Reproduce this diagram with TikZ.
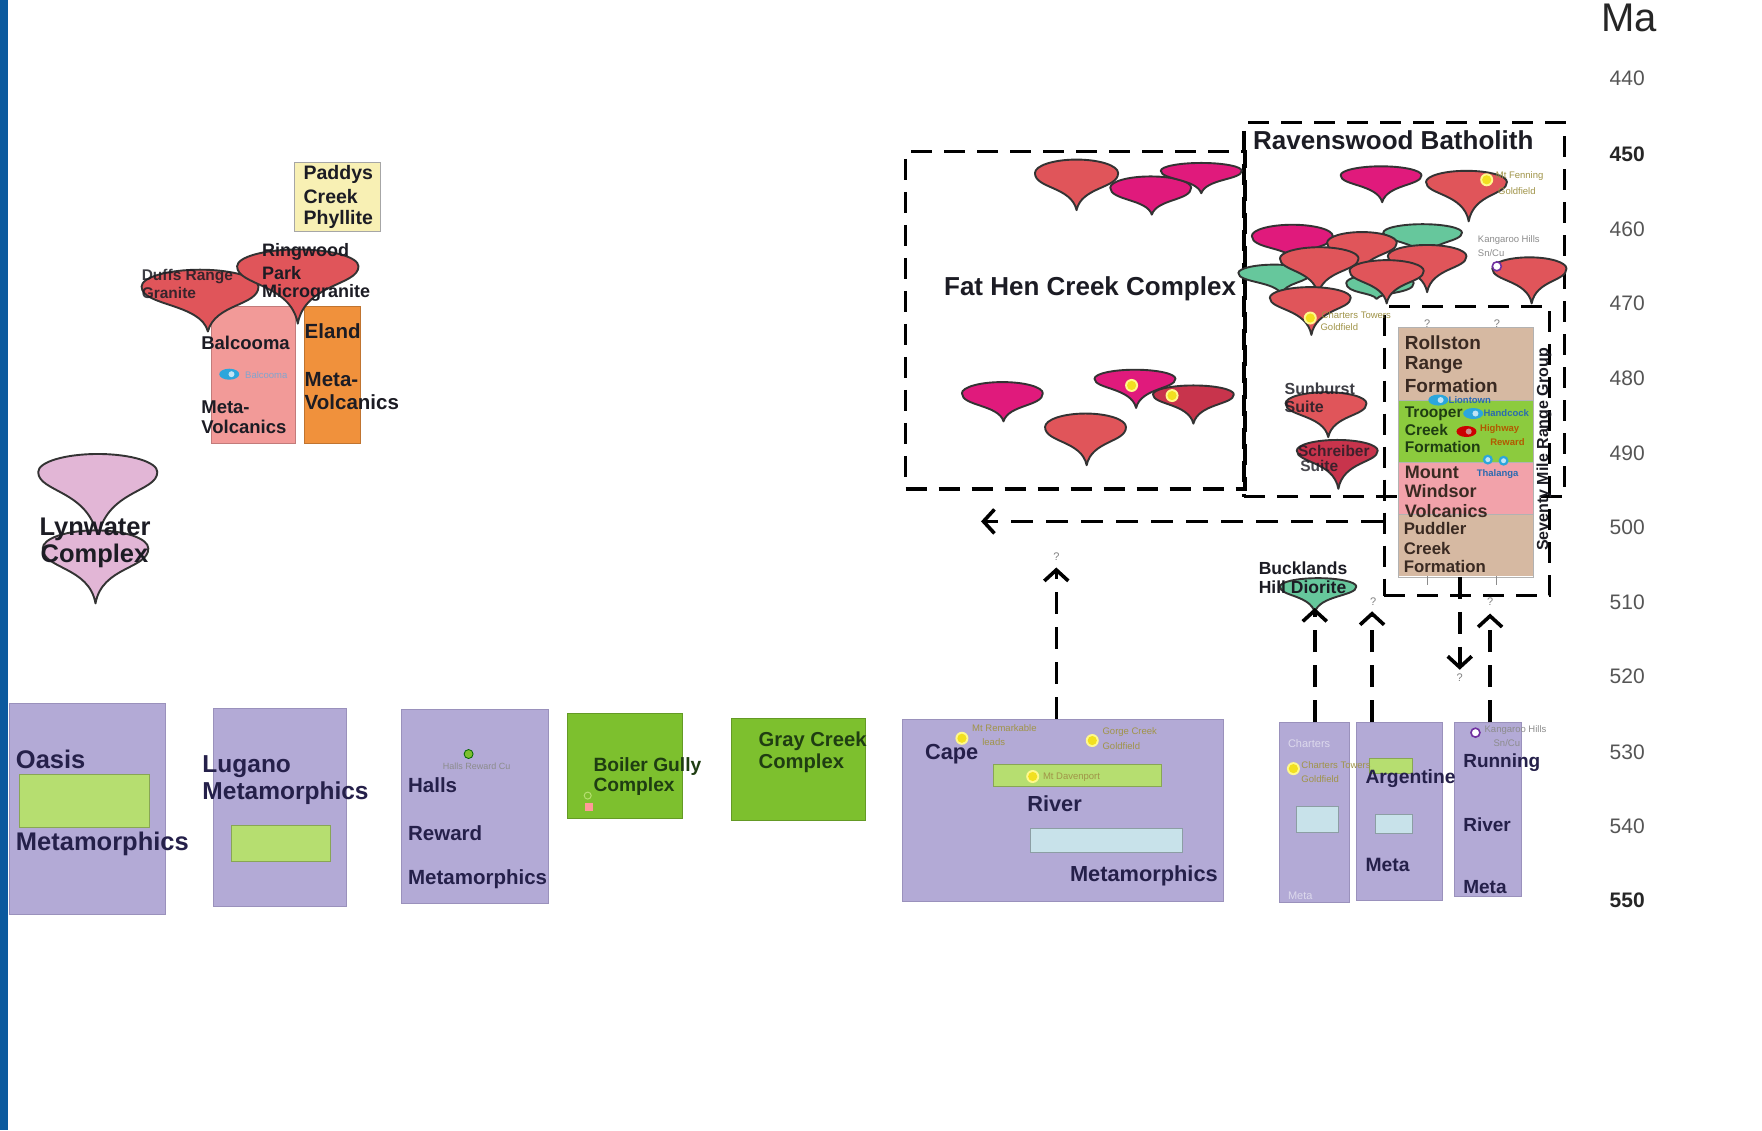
\documentclass[tikz,border=0pt]{standalone}
\usepackage{fontspec}
\setmainfont{Liberation Sans}
\usetikzlibrary{arrows.meta,fit}
\definecolor{lav}{HTML}{B3AAD6}
\definecolor{lavbd}{HTML}{9A91BC}
\definecolor{cgreen}{HTML}{7DC02E}
\definecolor{lgreen}{HTML}{B6DE70}
\definecolor{lblue}{HTML}{C8E2EA}
\definecolor{mred}{HTML}{E0555A}
\definecolor{mmag}{HTML}{E01A7C}
\definecolor{mcrim}{HTML}{C8344C}
\definecolor{mgrn}{HTML}{66C79C}
\definecolor{mlil}{HTML}{E2B6D6}
\definecolor{balpink}{HTML}{F29A98}
\definecolor{elorange}{HTML}{F0913C}
\definecolor{paddy}{HTML}{F8F0B4}
\definecolor{rbrown}{HTML}{D6B9A2}
\definecolor{rgreen}{HTML}{8CCB3E}
\definecolor{rpink}{HTML}{F2A2AA}
\definecolor{stripblue}{HTML}{0B5A9E}
\definecolor{txt}{HTML}{1C1C24}
\definecolor{navy}{HTML}{25204A}
\definecolor{olive}{HTML}{A09448}
\definecolor{dotblue}{HTML}{2BA6DC}
\definecolor{tickgray}{HTML}{555555}
\definecolor{ydot}{HTML}{F2E020}
\definecolor{kpurple}{HTML}{7030A0}
\definecolor{dkgreen}{HTML}{1F3D12}
\definecolor{dkbrown}{HTML}{3A2A22}
\definecolor{fblue}{HTML}{2A6AB0}

\newcommand{\mushroom}[7]{%
  \pgfmathsetmacro{\mshL}{#1-#3}%
  \pgfmathsetmacro{\mshR}{#1+#3}%
  \pgfmathsetmacro{\mshT}{#2-#4}%
  \pgfmathsetmacro{\mshKx}{0.5523*#3}%
  \pgfmathsetmacro{\mshKy}{0.5523*#4}%
  \pgfmathsetmacro{\mshB}{#2+1.15*#4}%
  \pgfmathsetmacro{\mshN}{#2+1.0*#4}%
  \pgfmathsetmacro{\mshTr}{#5+0.12*#3}%
  \pgfmathsetmacro{\mshTl}{#5-0.12*#3}%
  \filldraw[mushline, fill=#7] (\mshL,#2) .. controls (\mshL,#2-\mshKy) and (#1-\mshKx,\mshT) .. (#1,\mshT) .. controls (#1+\mshKx,\mshT) and (\mshR,#2-\mshKy) .. (\mshR,#2) .. controls (\mshR,\mshB) and (\mshTr,\mshN) .. (#5,#6) .. controls (\mshTl,\mshN) and (\mshL,\mshB) .. cycle;%
}
\newcommand{\ydotat}[2]{\fill[yellow!45!white] (#1,#2) circle (6.5pt); \fill[ydot] (#1,#2) circle (4.6pt);}
\newcommand{\bcaps}[3]{\fill[#3] (#1,#2) ellipse (10pt and 5.5pt); \fill[white!70!#3] (#1+2,#2) circle (3pt);}

\begin{document}
\begin{tikzpicture}[x=1.1237pt, y=-1.1237pt,
  dbox/.style={draw=black, line width=3.4pt, dash pattern=on 21pt off 12pt, inner sep=0pt},
  darr/.style={draw=black, line width=3.6pt, dash pattern=on 22pt off 13pt, -{Straight Barb[length=11pt,width=24pt]}},
  rbox/.style={inner sep=0pt, line width=0.9pt},
  lbl/.style={inner sep=0pt, anchor=west, text=txt, font=\bfseries\fontsize{#1}{#1}\selectfont},
  lbl/.default=20,
  flbl/.style={inner sep=0pt, anchor=west, text=olive, font=\fontsize{#1}{#1}\selectfont},
  flbl/.default=9.5,
  tick/.style={inner sep=0pt, text=tickgray, font=\fontsize{21}{21}\selectfont},
  qm/.style={inner sep=0pt, text=black!50, font=\fontsize{11}{11}\selectfont},
  mushline/.style={draw=black!80, line width=1.9pt, line join=round},
]
\fill[white] (0,0) rectangle (1568,1006);
\useasboundingbox (0,0) rectangle (1568,1006);
\fill[stripblue] (0,0) rectangle (7,1006);

% ---------- dashed group boxes ----------
\node[dbox, fit={(806,135) (1108,435)}] (fathen) {};
\node[dbox, fit={(1107,109) (1392,442)}] (raven) {};

% ---------- upper left boxes ----------
\node[rbox, draw=black!35, fill=paddy, fit={(262,145) (339,206)}] (paddys) {};
\node[rbox, draw=balpink!80!black, fill=balpink, fit={(188,273) (263,395)}] (balcooma) {};
\node[rbox, draw=elorange!80!black, fill=elorange, fit={(271,273) (321,395)}] (eland) {};

% ---------- intrusions (spinning-top shapes) ----------
\mushroom{178}{255}{52}{15}{185}{295}{mred}
\mushroom{265}{237}{54}{15}{265}{288}{mred}
\mushroom{87}{420}{53}{16}{87}{480}{mlil}
\mushroom{85}{488}{47}{16}{85}{537}{mlil}
% Fat Hen Creek
\mushroom{958}{154}{37}{12}{958}{187}{mred}
\mushroom{1024}{167}{36}{10}{1025}{191}{mmag}
\mushroom{1069}{152}{36}{7}{1069}{172}{mmag}
\mushroom{892}{350}{36}{10}{893}{375}{mmag}
\mushroom{966}{380}{36}{12}{967}{414}{mred}
\mushroom{1010}{337}{36}{8}{1011}{363}{mmag}
\mushroom{1062}{351}{36}{8}{1062}{377}{mcrim}
% Ravenswood
\mushroom{1229}{156}{36}{8}{1230}{180}{mmag}
\mushroom{1305}{162}{36}{10}{1307}{197}{mred}
\mushroom{1266}{207}{35}{7.5}{1268}{230}{mgrn}
\mushroom{1134}{243}{32}{7.5}{1140}{262}{mgrn}
\mushroom{1228}{252}{30}{8}{1225}{266}{mgrn}
\mushroom{1150}{210}{36}{10}{1151}{231}{mmag}
\mushroom{1212}{216}{31}{9.5}{1210}{245}{mred}
\mushroom{1174}{230}{35}{10}{1173}{262}{mred}
\mushroom{1270}{228}{35}{10}{1270}{260}{mred}
\mushroom{1234}{241}{33}{9.5}{1234}{270}{mred}
\mushroom{1166}{265}{36}{9.5}{1167}{298}{mred}
\mushroom{1361}{239}{33}{10}{1363}{270}{mred}
% Sunburst, Schreiber, Bucklands
\mushroom{1180}{359}{36}{10}{1182}{389}{mred}
\mushroom{1190}{401}{36}{9.5}{1191}{435}{mcrim}
\mushroom{1173}{522}{34}{7.5}{1170}{545}{mgrn}

% ---------- Seventy Mile Range Group ----------
\node[rbox, fill=rbrown, fit={(1245,292) (1364,513)}] (rollbox) {};
\fill[rgreen] (1245,356) rectangle (1364,411);
\fill[rpink] (1245,411) rectangle (1364,458);
\draw[black!30, line width=0.6pt] (1245,356) -- (1364,356) (1245,411) -- (1364,411) (1245,458) -- (1364,458);
\draw[black!30, line width=0.7pt] (rollbox.north west) rectangle (rollbox.south east);
\node[dbox, fit={(1232,273) (1379,530)}] (smr) {};
\draw[black!45, line width=0.8pt] (1270,513) -- (1270,521) (1332,513) -- (1332,521);

% ---------- lower boxes ----------
\node[rbox, draw=lavbd, fill=lav, fit={(8,626) (147,814)}] (oasis) {};
\node[rbox, draw=lgreen!75!black, fill=lgreen, fit={(17,689) (133,736)}] (oasisin) {};
\node[rbox, draw=lavbd, fill=lav, fit={(190,630) (308,807)}] (lugano) {};
\node[rbox, draw=lgreen!75!black, fill=lgreen, fit={(206,735) (294,767)}] (luganoin) {};
\node[rbox, draw=lavbd, fill=lav, fit={(357,631) (488,804)}] (halls) {};
\node[rbox, draw=cgreen!80!black, fill=cgreen, fit={(505,635) (607,728)}] (boiler) {};
\node[rbox, draw=cgreen!80!black, fill=cgreen, fit={(651,639) (770,730)}] (gray) {};
\node[rbox, draw=lavbd, fill=lav, fit={(803,640) (1089,802)}] (cape) {};
\node[rbox, draw=lgreen!75!black, fill=lgreen, fit={(884,680) (1034,700)}] (capein1) {};
\node[rbox, draw=lblue!70!black, fill=lblue, fit={(917,737) (1052,759)}] (capein2) {};
\node[rbox, draw=lavbd, fill=lav, fit={(1139,643) (1201,803)}] (charters) {};
\node[rbox, draw=lblue!70!black, fill=lblue, fit={(1154,718) (1191,741)}] (chartersin) {};
\node[rbox, draw=lavbd, fill=lav, fit={(1207,643) (1284,801)}] (argentine) {};
\node[rbox, draw=lgreen!75!black, fill=lgreen, fit={(1219,675) (1257,688)}] (argin1) {};
\node[rbox, draw=lblue!70!black, fill=lblue, fit={(1224,725) (1257,742)}] (argin2) {};
\node[rbox, draw=lavbd, fill=lav, fit={(1294,643) (1354,798)}] (running) {};

% ---------- connectors ----------
\coordinate (fh) at (940,505);
\coordinate (bk) at (1170,541);
\coordinate (ag) at (1221,544);
\coordinate (rr) at (1326,546);
\coordinate (dn) at (1299,596);
\coordinate (lf) at (873,464);
\draw[darr] (cape.north -| fh) -- (fh);
\draw[darr] (charters.north -| bk) -- (bk);
\draw[darr] (argentine.north -| ag) -- (ag);
\draw[darr] (running.north -| rr) -- (rr);
\draw[darr] (rollbox.south -| dn) -- (dn);
\draw[darr] (smr.west |- lf) -- (lf);
\node[qm] (q1) at (940,495) {?};
\node[qm] (q2) at (1222,535) {?};
\node[qm] (q3) at (1326,535) {?};
\node[qm] (q4) at (1299,603) {?};
\node[qm] (q5) at (1270,288) {?};
\node[qm] (q6) at (1332,288) {?};

% ---------- dots ----------
\ydotat{1007}{343}
\ydotat{1043}{352}
\ydotat{1323}{160}
\ydotat{1166}{283}
\ydotat{856}{657}
\ydotat{972}{659}
\ydotat{919}{691}
\ydotat{1151}{684}
\filldraw[draw=kpurple, line width=1.6pt, fill=white] (1332,237) circle (4.5pt);
\filldraw[draw=kpurple, line width=1.6pt, fill=white] (1313,652) circle (4.5pt);
\bcaps{1280}{356}{dotblue}
\bcaps{1311}{368}{dotblue}
\bcaps{1305}{384}{red!80!black}
\fill[dotblue] (1324,409) circle (5pt); \fill[white!70!dotblue] (1324,409) circle (2.5pt);
\fill[dotblue] (1338,410) circle (5pt); \fill[white!70!dotblue] (1338,410) circle (2.5pt);
\bcaps{204}{333}{dotblue}
\filldraw[draw=green!40!black, line width=0.8pt, fill=cgreen] (417,671) circle (4.5pt);
\draw[draw=lgreen, line width=1pt] (523,708) circle (3.5pt);
\fill[pink!80!red] (520.5,714.5) rectangle (527.5,721.5);

% ---------- labels ----------
\node[lbl=19.5] (pc1) at (270,155) {Paddys};
\node[lbl=19.5] (pc2) at (270,175) {Creek};
\node[lbl=19.5] (pc3) at (270,195) {Phyllite};
\node[lbl=15.5, text opacity=0.85] (dr1) at (126,246) {Duffs Range};
\node[lbl=15.5, text opacity=0.85] (dr2) at (126,261) {Granite};
\node[lbl=18] (rw1) at (233,224) {Ringwood};
\node[lbl=18] (rw2) at (233,243) {Park};
\node[lbl=18] (rw3) at (233,261) {Microgranite};
\node[lbl=18.5] (bc1) at (179,305) {Balcooma};
\node[flbl=9.5, text=fblue!60!white] (bcd) at (218,334) {Balcooma};
\node[lbl=18.5] (bc2) at (179,362) {Meta-};
\node[lbl=18.5] (bc3) at (179,380) {Volcanics};
\node[lbl=20.5] (el1) at (271,295) {Eland};
\node[lbl=20.5] (el2) at (271,338) {Meta-};
\node[lbl=20.5] (el3) at (271,358) {Volcanics};
\node[lbl=25.5] (ly1) at (35,471) {Lynwater};
\node[lbl=25.5] (ly2) at (36,495) {Complex};

\node[lbl=26] (fhl) at (840,257) {Fat Hen Creek Complex};
\node[lbl=26] (rvl) at (1115,125) {Ravenswood Batholith};
\node[flbl] (rf1) at (1331,157) {Mt Fenning};
\node[flbl] (rf2) at (1333,170) {Goldfield};
\node[flbl, text=black!45] (kh1) at (1315,214) {Kangaroo Hills};
\node[flbl, text=black!45] (kh2) at (1315,225) {Sn/Cu};
\node[flbl] (ct1) at (1176,280) {Charters Towers};
\node[flbl] (ct2) at (1175,291) {Goldfield};

\node[lbl=16, text opacity=0.85] (sb1) at (1143,346) {Sunburst};
\node[lbl=16, text opacity=0.85] (sb2) at (1143,362) {Suite};
\node[lbl=15.5, text opacity=0.8] (sc1) at (1155,401) {Schreiber};
\node[lbl=15.5, text opacity=0.8] (sc2) at (1157,415) {Suite};
\node[lbl=17.5] (bh1) at (1120,506) {Bucklands};
\node[lbl=17.5] (bh2) at (1120,523) {Hill Diorite};

\node[lbl=19, text=dkbrown] (ro1) at (1250,305) {Rollston};
\node[lbl=19, text=dkbrown] (ro2) at (1250,325) {Range};
\node[lbl=19, text=dkbrown] (ro3) at (1250,343) {Formation};
\node[lbl=15.5, text=dkgreen] (tc1) at (1250,368) {Trooper};
\node[lbl=15.5, text=dkgreen] (tc2) at (1250,383) {Creek};
\node[lbl=15.5, text=dkgreen] (tc3) at (1250,398) {Formation};
\node[lbl=18, text=dkbrown] (mw1) at (1250,420) {Mount};
\node[lbl=18, text=dkbrown] (mw2) at (1250,437) {Windsor};
\node[lbl=18, text=dkbrown] (mw3) at (1250,455) {Volcanics};
\node[lbl=16.8, text=dkbrown] (pu1) at (1249,470) {Puddler};
\node[lbl=16.8, text=dkbrown] (pu2) at (1249,488) {Creek};
\node[lbl=16.8, text=dkbrown] (pu3) at (1249,504) {Formation};
\node[lbl=9.5, text=fblue] (dl1) at (1289,356) {Liontown};
\node[lbl=9.5, text=fblue] (dl2) at (1320,368) {Handcock};
\node[lbl=9.5, text=orange!70!black] (dl3) at (1317,382) {Highway};
\node[lbl=9.5, text=orange!70!black] (dl4) at (1326,393) {Reward};
\node[lbl=9.5, text=fblue] (dl5) at (1314,422) {Thalanga};
\node[lbl=16, anchor=center, rotate=90] (smrl) at (1374,400) {Seventy Mile Range Group};

\node[lbl=25.5, text=navy] (oa1) at (14,676) {Oasis};
\node[lbl=25.5, text=navy] (oa2) at (14,751) {Metamorphics};
\node[lbl=24.5, text=navy] (lu1) at (180,682) {Lugano};
\node[lbl=24.5, text=navy] (lu2) at (180,706) {Metamorphics};
\node[flbl=9, text=black!45] (hrc) at (394,682) {Halls Reward Cu};
\node[lbl=20.5, text=navy] (ha1) at (363,699) {Halls};
\node[lbl=20.5, text=navy] (ha2) at (363,741) {Reward};
\node[lbl=20.5, text=navy] (ha3) at (363,782) {Metamorphics};
\node[lbl=19.2, text=dkgreen] (bg1) at (528,682) {Boiler Gully};
\node[lbl=19.2, text=dkgreen] (bg2) at (528,700) {Complex};
\node[lbl=20.2, text=dkgreen] (gc1) at (675,660) {Gray Creek};
\node[lbl=20.2, text=dkgreen] (gc2) at (675,679) {Complex};
\node[flbl] (mr1) at (865,648) {Mt Remarkable};
\node[flbl] (mr2) at (874,660) {leads};
\node[flbl] (gg1) at (981,651) {Gorge Creek};
\node[flbl] (gg2) at (981,664) {Goldfield};
\node[flbl] (md) at (928,692) {Mt Davenport};
\node[lbl=21.8, text=navy] (cr1) at (823,671) {Cape};
\node[lbl=21.8, text=navy] (cr2) at (914,715) {River};
\node[lbl=21.8, text=navy] (cr3) at (952,779) {Metamorphics};
\node[flbl=11, text=white, text opacity=0.55] (cw1) at (1146,662) {Charters};
\node[flbl=11, text=white, text opacity=0.55] (cw2) at (1146,797) {Meta};
\node[flbl] (cg1) at (1158,681) {Charters Towers};
\node[flbl] (cg2) at (1158,693) {Goldfield};
\node[lbl=19.3, text=navy] (ar1) at (1215,693) {Argentine};
\node[lbl=19.3, text=navy] (ar2) at (1215,770) {Meta};
\node[flbl, text=black!45] (kr1) at (1321,650) {Kangaroo Hills};
\node[flbl, text=black!45] (kr2) at (1329,661) {Sn/Cu};
\node[lbl=19, text=navy] (ru1) at (1302,679) {Running};
\node[lbl=19, text=navy] (ru2) at (1302,734) {River};
\node[lbl=19, text=navy] (ru3) at (1302,789) {Meta};

% ---------- time scale ----------
\node[inner sep=0pt, text=black!85, font=\fontsize{40}{40}\selectfont] (ma) at (1450,16) {Ma};
\node[tick] (t440) at (1448,70) {440};
\node[tick, text=black!85, font=\bfseries\fontsize{21}{21}\selectfont] (t450) at (1448,137) {450};
\node[tick] (t460) at (1448,204) {460};
\node[tick] (t470) at (1448,270) {470};
\node[tick] (t480) at (1448,337) {480};
\node[tick] (t490) at (1448,403) {490};
\node[tick] (t500) at (1448,469) {500};
\node[tick] (t510) at (1448,536) {510};
\node[tick] (t520) at (1448,602) {520};
\node[tick] (t530) at (1448,669) {530};
\node[tick] (t540) at (1448,735) {540};
\node[tick, text=black!85, font=\bfseries\fontsize{21}{21}\selectfont] (t550) at (1448,801) {550};
\end{tikzpicture}
\end{document}
